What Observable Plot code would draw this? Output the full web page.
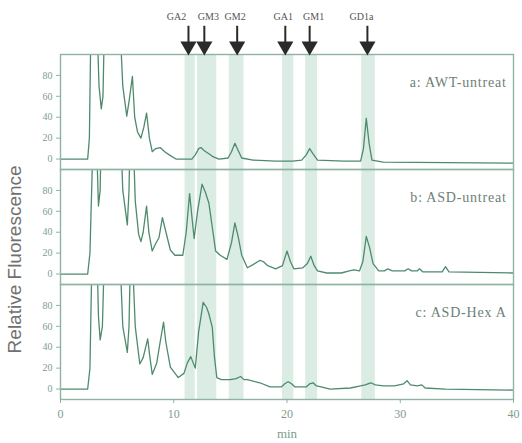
<!DOCTYPE html>
<html><head><meta charset="utf-8">
<script src="https://cdn.jsdelivr.net/npm/d3@7"></script>
<script src="https://cdn.jsdelivr.net/npm/@observablehq/plot@0.6"></script>
<style>body{margin:0;background:#fff} .plab text{letter-spacing:0.8px}</style>
</head><body><div id="chart"></div>
<script>
// Retention-time traces (min, relative fluorescence)
const tA = [0,2.4,2.55,2.7,3.2,3.4,3.6,3.75,3.9,5.2,5.5,5.85,6.05,6.35,6.55,6.8,7.1,7.35,7.6,7.85,8.1,8.4,8.8,9.2,9.6,10.2,11.6,11.9,12.2,12.4,12.7,13.1,13.5,14.0,14.8,15.1,15.4,15.7,16.0,17,19,20.5,21.3,21.7,22.0,22.3,22.7,25,26.5,26.75,27.0,27.25,27.5,28.5,40];
const vA = [0,0,20,140,140,70,48,60,140,140,70,41,55,79,40,26,20,30,44,20,7,10,11,7,4,0,0,4,10,11,8,5,2,0,1,7,15,8,1,-1,-2,-2,-1,4,10,5,-1,-2,-2,10,39,15,-1,-3,-4];

const tB = [0,2.4,2.6,2.9,3.15,3.35,3.5,3.6,5.3,5.5,5.9,6.05,6.15,6.4,6.6,6.9,7.1,7.3,7.6,7.8,8.1,8.4,8.7,9.0,9.2,9.7,10.1,10.8,11.1,11.4,11.6,11.8,12.1,12.5,12.8,13.1,13.4,13.7,14.1,14.7,15.1,15.4,15.7,16.0,16.5,17.0,17.6,17.9,18.3,19.0,19.6,20.0,20.3,20.6,21.4,21.8,22.1,22.4,22.7,23.5,24.8,25.5,25.9,26.4,26.7,27.0,27.3,27.6,28.1,28.6,28.9,29.3,30.4,30.7,31.0,31.5,31.7,32.0,33.7,34.0,34.3,40];
const vB = [0,0,20,140,140,65,80,140,140,80,47,80,140,140,70,38,31,40,65,40,22,29,35,54,45,23,18,18,40,77,55,34,60,86,78,68,45,22,18,14,30,49,35,18,6,9,13,12,8,5,8,22,12,5,6,10,17,8,3,1,1,3,4,3,12,36,25,10,3,3,5,3,3,5,3,3,5,2,2,7,2,1];

const tC = [0,2.4,2.6,2.8,3.2,3.35,3.5,3.7,3.9,5.2,5.5,5.9,6.05,6.2,6.3,6.6,7.0,7.3,7.7,7.9,8.1,8.5,8.8,9.1,9.3,9.7,10.4,10.9,11.2,11.5,11.9,12.2,12.6,12.9,13.1,13.4,13.6,13.8,14.2,15.0,15.5,15.9,16.2,16.5,17.6,18.5,19.5,19.8,20.1,20.4,20.7,21.7,22.0,22.3,22.6,23.0,23.8,25.6,26.5,26.9,27.4,27.8,28.5,29.5,30.3,30.6,30.9,31.5,31.9,32.2,34,40];
const vC = [0,0,20,140,140,70,47,60,140,140,60,35,60,140,140,60,24,30,48,30,14,25,45,64,45,21,11,15,25,31,20,55,83,78,72,59,30,11,9,9,10,12,9,9,6,2,2,5,7,5,2,2,5,6,3,2,0,1,3,4,6,4,3,3,5,8,4,3,4,1,0,-1];

const panels = ["a", "b", "c"];
const panelLabels = ["a: AWT-untreat", "b: ASD-untreat", "c: ASD-Hex A"];

// Ganglioside standards: names, retention times, shaded windows
const gNames = ["GA2", "GM3", "GM2", "GA1", "GM1", "GD1a"];
const gTimes = [11.3, 12.7, 15.6, 19.85, 22.0, 27.1];
const bandStart = [11.0, 12.1, 14.9, 19.6, 21.65, 26.6];
const bandEnd   = [11.9, 13.8, 16.2, 20.6, 22.7, 27.8];

const xTicks = [0, 10, 20, 30, 40];
const yTicks = [0, 20, 40, 60, 80];

const rows = [];
[[tA, vA], [tB, vB], [tC, vC]].forEach(([t, v], k) => t.forEach((x, i) => rows.push({panel: panels[k], t: x, v: v[i]})));
const bands = bandStart.map((s, i) => ({s, e: bandEnd[i]}));
const stds = gNames.map((n, i) => ({name: n, t: gTimes[i], panel: "a"}));
const labs = panels.map((p, i) => ({panel: p, text: panelLabels[i]}));

const lineColor = "#4f8a6e";
const frameColor = "#8fb3a3";
const labelDx = [-12, 4, -2, -2, 4, -6];

const chart = Plot.plot({
  width: 522, height: 443,
  marginLeft: 60, marginRight: 9, marginTop: 53, marginBottom: 44,
  style: {fontFamily: "Liberation Serif", fontSize: "10px", color: "#7e9c90", background: "#fff"},
  x: {domain: [0, 40]},
  y: {domain: [-10, 100]},
  fy: {domain: panels, padding: 0, axis: null},
  marks: [
    Plot.rect(bands, {x1: "s", x2: "e", y1: -10, y2: 100, fill: "#d3e9df", fillOpacity: 0.85}),
    Plot.line(rows, {x: "t", y: "v", fy: "panel", stroke: lineColor, strokeWidth: 1.3, clip: true}),
    Plot.frame({stroke: frameColor, strokeWidth: 1.4}),
    Plot.axisY({ticks: yTicks, tickSize: 4, tickPadding: 4, fontSize: 10, label: null, stroke: frameColor}),
    Plot.axisX({ticks: xTicks, tickSize: 4, tickPadding: 6, fontSize: 12, label: null, stroke: frameColor}),
    Plot.text(["min"], {x: 20, y: -10, fy: () => "c", dy: 34, fontSize: 13, fill: "#7e9c90"}),
    Plot.text(labs, {x: 39.4, y: 73, fy: "panel", text: "text", textAnchor: "end", fontSize: 14, fill: "#6d7f77", className: "plab"}),
    Plot.text(["Relative Fluorescence"], {x: 0, y: 14, fy: () => "b", dx: -46, rotate: -90, fontSize: 19, fontFamily: "Liberation Sans", fill: "#707070"}),
    Plot.ruleX(stds, {x: "t", y1: 127, y2: 111, fy: "panel", stroke: "#2a2a2a", strokeWidth: 2}),
    Plot.dot(stds, {x: "t", y: 108, fy: "panel", symbol: "triangle", rotate: 180, r: 6, fill: "#2a2a2a", stroke: "none"}),
    ...stds.map((s, i) => Plot.text([s], {x: "t", y: 136, fy: "panel", text: "name", dx: labelDx[i], fontSize: 10, fill: "#555"}))
  ]
});
document.getElementById("chart").append(chart);
</script>
</body></html>
